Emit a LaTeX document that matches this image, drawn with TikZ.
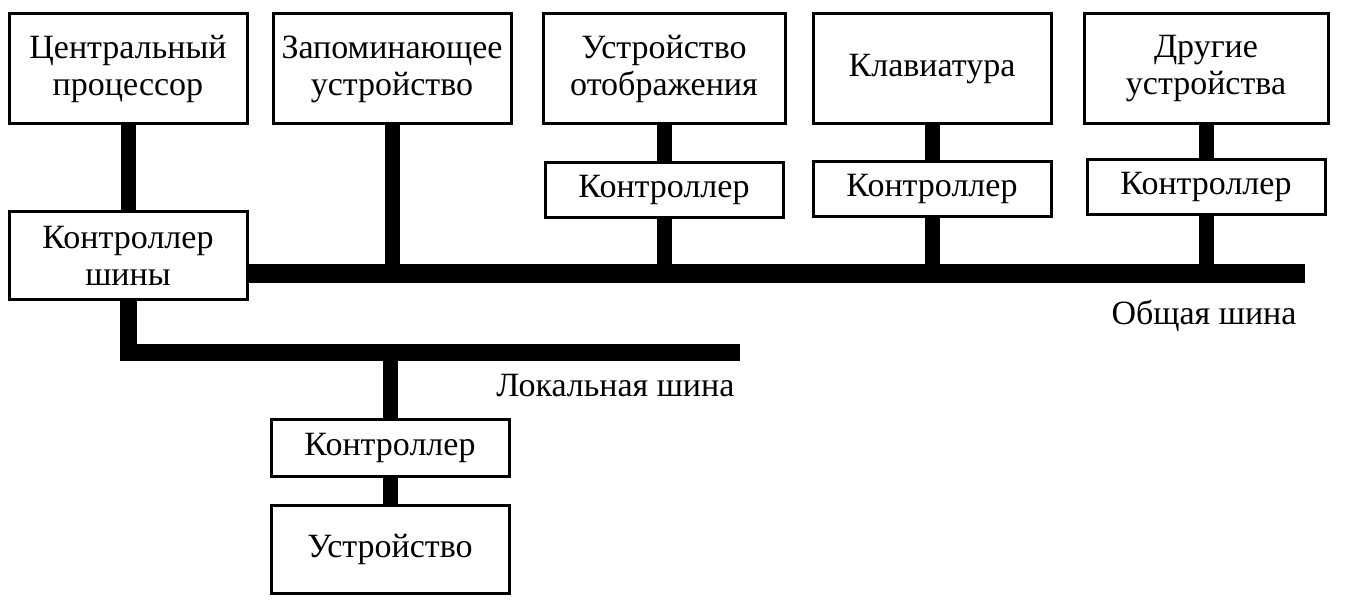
\documentclass[tikz,border=0pt]{standalone}
\usepackage{fontspec}
\setmainfont{Liberation Serif}
\usetikzlibrary{positioning}

\begin{document}
\begin{tikzpicture}[x=1pt,y=-1pt,node distance=100pt,on grid,
    box/.style={draw,line width=3pt,minimum width=238pt,minimum height=110pt,inner sep=0pt,align=center,font=\fontsize{34}{37}\selectfont},
    ctl/.style={box,minimum height=55pt},
    link/.style={line width=15pt},
    bus/.style={line width=19pt}]
   \useasboundingbox (0,0) rectangle (1345,612);
   \node[box] (cpu) at (128,69) {Центральный\\процессор};
   \node[box] (mem) [right=264pt of cpu] {Запоминающее\\устройство};
   \node[box,minimum width=242pt] (disp) [right=272pt of mem] {Устройство\\отображения};
   \node[box] (kbd) [right=268pt of disp] {Клавиатура};
   \node[box,minimum width=244pt] (other) [right=274pt of kbd] {Другие\\устройства};
   \node[ctl] (dispctl) [below=121pt of disp] {Контроллер};
   \node[ctl] (kbdctl) [below=120pt of kbd] {Контроллер};
   \node[ctl] (otherctl) [below=118pt of other] {Контроллер};
   \node[ctl,minimum height=88pt] (busctl) [below=187pt of cpu] {Контроллер\\шины};
   \node[ctl,minimum height=57pt] (devctl) at (390,448) {Контроллер};
   \node[box,minimum height=88pt] (dev) [below=101pt of devctl] {Устройство};
   \node[anchor=base east,font=\fontsize{34}{37}\selectfont] (syslabel) at (1300,325) {Общая шина};
   \node[anchor=base east,font=\fontsize{34}{37}\selectfont] (loclabel) at (738,397) {Локальная шина};
   \coordinate (sysend) at (1305,274);
   \coordinate (locend) at (740,353);
   % system bus
   \draw[bus] (busctl.east |- sysend) -- (sysend);
   \path[link]
    (cpu) edge (busctl)
    (mem.south) edge (mem.south |- sysend)
    (disp) edge (dispctl)
    (kbd) edge (kbdctl)
    (other) edge (otherctl)
    (dispctl.south) edge (dispctl.south |- sysend)
    (kbdctl.south) edge (kbdctl.south |- sysend)
    (otherctl.south) edge (otherctl.south |- sysend);
   % local bus
   \draw[link,line width=17pt] (busctl.south) |- (locend);
   \path[link]
    (devctl.north |- locend) edge (devctl)
    (devctl) edge (dev);
\end{tikzpicture}
\end{document}
